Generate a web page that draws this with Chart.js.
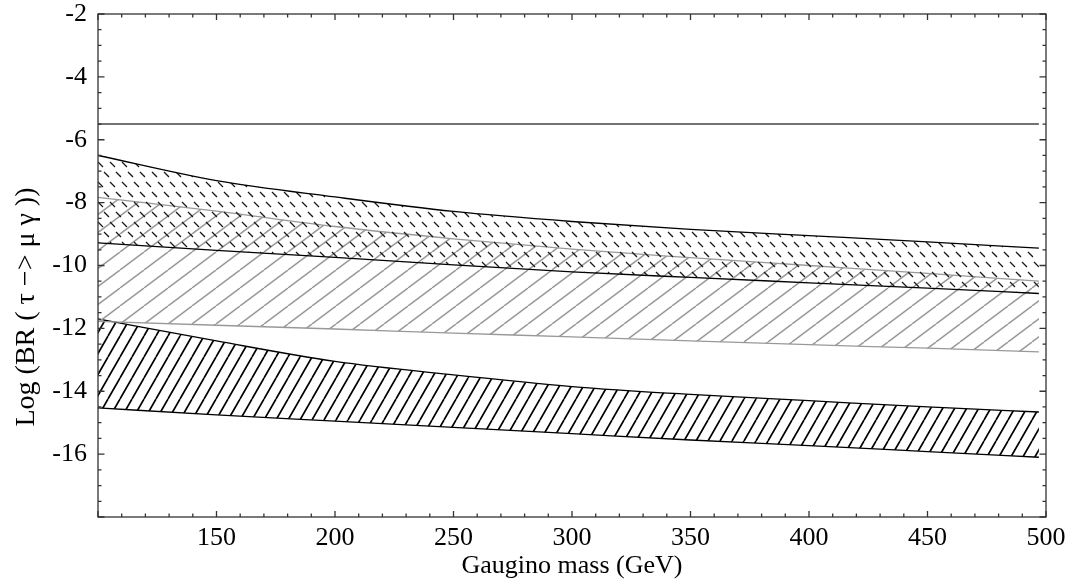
<!DOCTYPE html>
<html>
<head>
<meta charset="utf-8">
<script src="https://cdn.jsdelivr.net/npm/chart.js@4.4.1/dist/chart.umd.min.js"></script>
<style>
  html, body { margin: 0; padding: 0; background: #fff; }
  #wrap { width: 1077px; height: 583px; }
</style>
</head>
<body>
<div id="wrap"><canvas id="brChart" width="1077" height="583"></canvas></div>
<script>
// gaugino mass points (GeV)
const massPoints = [100, 150, 200, 250, 300, 350, 400, 450, 497];

// log10 BR(tau -> mu gamma) band edges
const band1Upper = [-6.50, -7.30, -7.82, -8.28, -8.60, -8.85, -9.05, -9.25, -9.45];
const band1Lower = [-9.28, -9.52, -9.74, -9.98, -10.20, -10.38, -10.55, -10.72, -10.89];
const band2Upper = [-7.83, -8.27, -8.76, -9.15, -9.48, -9.75, -10.00, -10.25, -10.50];
const band2Lower = [-11.78, -11.90, -12.02, -12.15, -12.27, -12.40, -12.52, -12.63, -12.75];
const band3Upper = [-11.70, -12.40, -13.05, -13.48, -13.85, -14.10, -14.30, -14.50, -14.66];
const band3Lower = [-14.53, -14.75, -14.95, -15.15, -15.35, -15.55, -15.73, -15.92, -16.10];
const expLimit = [-5.5, -5.5];
const limitMass = [100, 497];

const xTicks = [150, 200, 250, 300, 350, 400, 450, 500];
const yTicks = [-2, -4, -6, -8, -10, -12, -14, -16];

function toXY(xs, ys) {
  return xs.map((x, i) => ({ x: x, y: ys[i] }));
}

// hatch patterns
function linePattern(w, h, color, width) {
  const c = document.createElement("canvas");
  c.width = w;
  c.height = h;
  const g = c.getContext("2d");
  g.strokeStyle = color;
  g.lineWidth = width;
  g.beginPath();
  for (let k = -1; k <= 1; k++) {
    g.moveTo(k * w, h);
    g.lineTo(k * w + w, 0);
  }
  g.stroke();
  return g.createPattern(c, "repeat");
}

function dashPattern(w, h, color, width) {
  const c = document.createElement("canvas");
  c.width = w;
  c.height = h;
  const g = c.getContext("2d");
  g.strokeStyle = color;
  g.lineWidth = width;
  g.beginPath();
  g.moveTo(2, 2);
  g.lineTo(7, 7);
  g.moveTo(8, 12);
  g.lineTo(13, 17);
  g.moveTo(-4, 12);
  g.lineTo(1, 17);
  g.stroke();
  return g.createPattern(c, "repeat");
}

const ctx = document.getElementById("brChart").getContext("2d");
const dashFill = dashPattern(12, 20, "#1a1a1a", 1.3);
const greyFill = linePattern(24, 18, "#999", 1.5);
const blackFill = linePattern(12, 21, "#000", 1.7);

// inward ticks on all four sides + frame
const frameTicks = {
  id: "frameTicks",
  afterDraw(chart) {
    const { ctx, chartArea: a, scales } = chart;
    const xs = scales.x, ys = scales.y;
    ctx.save();
    ctx.strokeStyle = "#333";
    ctx.lineWidth = 1.3;
    ctx.strokeRect(a.left, a.top, a.right - a.left, a.bottom - a.top);
    ctx.beginPath();
    for (let v = 100; v <= 500; v += 10) {
      const px = xs.getPixelForValue(v);
      const len = v % 50 === 0 ? 6 : 3.5;
      ctx.moveTo(px, a.bottom);
      ctx.lineTo(px, a.bottom - len);
      ctx.moveTo(px, a.top);
      ctx.lineTo(px, a.top + len);
    }
    for (let v = -18; v <= -2; v += 0.5) {
      const py = ys.getPixelForValue(v);
      const len = v % 2 === 0 ? 6.5 : 3.5;
      ctx.moveTo(a.left, py);
      ctx.lineTo(a.left + len, py);
      ctx.moveTo(a.right, py);
      ctx.lineTo(a.right - len, py);
    }
    ctx.stroke();

    // y axis title
    ctx.fillStyle = "#000";
    ctx.font = "28px 'Liberation Serif'";
    ctx.textAlign = "center";
    ctx.textBaseline = "middle";
    ctx.translate(27, 307);
    ctx.rotate(-Math.PI / 2);
    ctx.fillText("Log (BR ( \u03c4 \u2212> \u03bc \u03b3 ))", 0, 0);
    ctx.restore();
  },
};

const lineBase = {
  pointRadius: 0,
  borderWidth: 1.3,
  tension: 0.3,
  cubicInterpolationMode: "monotone",
};

new Chart(ctx, {
  type: "line",
  data: {
    datasets: [
      { ...lineBase, label: "band 1 upper", data: toXY(massPoints, band1Upper), borderColor: "#000", backgroundColor: dashFill, fill: "+1" },
      { ...lineBase, label: "band 1 lower", data: toXY(massPoints, band1Lower), borderColor: "#000", fill: false },
      { ...lineBase, label: "band 2 upper", data: toXY(massPoints, band2Upper), borderColor: "#999", backgroundColor: greyFill, fill: "+1" },
      { ...lineBase, label: "band 2 lower", data: toXY(massPoints, band2Lower), borderColor: "#999", fill: false },
      { ...lineBase, label: "band 3 upper", data: toXY(massPoints, band3Upper), borderColor: "#000", backgroundColor: blackFill, fill: "+1" },
      { ...lineBase, label: "band 3 lower", data: toXY(massPoints, band3Lower), borderColor: "#000", fill: false },
      { ...lineBase, label: "limit", data: toXY(limitMass, expLimit), borderColor: "#444", borderWidth: 1.4, fill: false },
    ],
  },
  options: {
    responsive: false,
    animation: false,
    devicePixelRatio: 1,
    layout: { padding: { top: 14, right: 31, left: 0, bottom: 0 } },
    plugins: {
      legend: { display: false },
      tooltip: { enabled: false },
    },
    scales: {
      x: {
        type: "linear",
        min: 100,
        max: 500,
        afterFit: (s) => { s.height = 66; s.paddingLeft = 0; s.paddingRight = 0; },
        afterBuildTicks: (s) => { s.ticks = [100].concat(xTicks).map((v) => ({ value: v })); },
        grid: { display: false, drawTicks: false },
        border: { display: false },
        ticks: {
          padding: 8,
          color: "#000",
          font: { family: "'Liberation Serif'", size: 26, lineHeight: 1 },
          callback: (v) => (v === 100 ? "" : String(v)),
        },
        title: {
          display: true,
          text: "Gaugino mass (GeV)",
          color: "#000",
          font: { family: "'Liberation Serif'", size: 26, lineHeight: 1 },
          padding: { top: 0, bottom: 4 },
        },
      },
      y: {
        type: "linear",
        min: -18,
        max: -2,
        afterFit: (s) => { s.width = 98; s.paddingTop = 0; s.paddingBottom = 0; },
        afterBuildTicks: (s) => { s.ticks = [-18].concat(yTicks).map((v) => ({ value: v })); },
        grid: { display: false, drawTicks: false },
        border: { display: false },
        ticks: {
          padding: 11,
          color: "#000",
          font: { family: "'Liberation Serif'", size: 26, lineHeight: 1 },
          callback: (v) => (v === -18 ? "" : String(v)),
        },
      },
    },
  },
  plugins: [frameTicks],
});
</script>
</body>
</html>
